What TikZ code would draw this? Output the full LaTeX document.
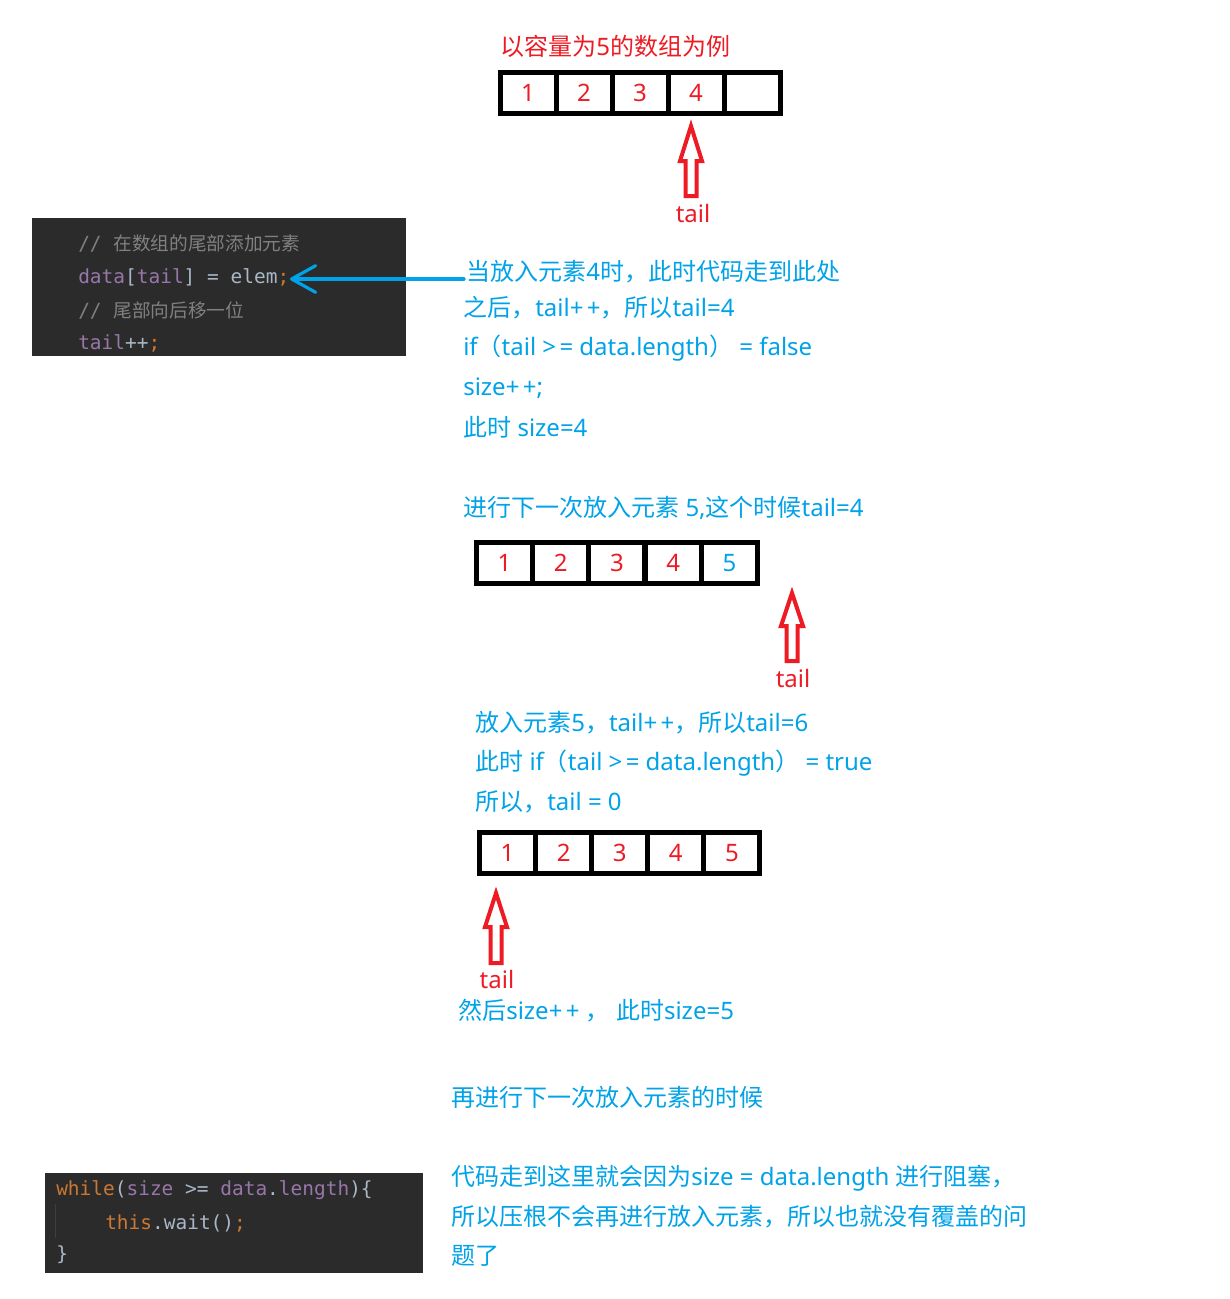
\documentclass[tikz,border=0pt]{standalone}
\usepackage{fontspec}
\setmainfont{Noto Sans CJK SC}
\setmonofont{DejaVu Sans Mono}
\newfontfamily\cjk{Noto Sans CJK SC}
\newfontfamily\latfont{Noto Sans}
\newcommand{\lt}[1]{{\latfont #1}}
\newcommand{\pp}{+\kern2.5pt+}
\newcommand{\geqsp}{>\kern2.5pt=}
\usetikzlibrary{arrows.meta}
\definecolor{rd}{RGB}{237,28,36}
\definecolor{bl}{RGB}{0,162,232}
\definecolor{codebg}{RGB}{43,43,43}
\definecolor{cgrey}{RGB}{128,128,128}
\definecolor{cpurple}{RGB}{152,118,170}
\definecolor{clight}{RGB}{169,183,198}
\definecolor{corange}{RGB}{204,120,50}
\definecolor{guide}{RGB}{62,62,62}
\begin{document}
\begin{tikzpicture}[x=0.75pt,y=-0.75pt,
  txt/.style={anchor=west,inner sep=0,text=bl,font=\fontsize{18pt}{22pt}\selectfont},
  rtxt/.style={inner sep=0,text=rd,font=\fontsize{18pt}{22pt}\selectfont},
  cell/.style={draw=black,line width=3.75pt,minimum width=42pt,minimum height=31.1pt,inner sep=0,outer sep=0,text=rd,font=\fontsize{18pt}{22pt}\selectfont\latfont},
  code/.style={anchor=west,inner sep=0,font=\fontsize{14.6pt}{17pt}\selectfont\ttfamily},
  codebox/.style={fill=codebg,draw=none},
  hollow/.style={draw=rd,line width=3pt,line join=miter},
  pointer/.style={draw=bl,line width=2.4pt,line cap=round,-{Straight Barb[length=18pt,width=20pt,round]}}
]
\useasboundingbox[fill=white] (0,0) rectangle (1230,1299);

% title
\node[rtxt,anchor=west] (title) at (500,46) {以容量为\lt{5}的数组为例};

% array 1
\foreach \v [count=\i] in {1,2,3,4,{}} {
  \node[cell] (a\i) at ({500+28+56*(\i-1)},92.75) {\v};
}
\draw[hollow] (691,126) -- (702,161) -- (696.5,161) -- (696.5,196) -- (685.5,196) -- (685.5,161) -- (680,161) -- cycle;
\node[rtxt] (tail1) at (693,213) {\lt{tail}};

% code box 1
\fill[codebox] (32,218) rectangle (406,356);
\node[code] (c1) at (78,244) {\color{cgrey}// {\cjk\fontsize{14pt}{17pt}\selectfont 在数组的尾部添加元素}};
\node[code] (c2) at (78,277) {\color{cpurple}data\color{clight}[\color{cpurple}tail\color{clight}] = elem\color{corange};};
\node[code] (c3) at (78,310) {\color{cgrey}// {\cjk\fontsize{14pt}{17pt}\selectfont 尾部向后移一位}};
\node[code] (c4) at (78,343) {\color{cpurple}tail\color{clight}++\color{corange};};

% explanation texts
\node[txt] (t1) at (466,272) {当放入元素\lt{4}时，此时代码走到此处};
\coordinate (semi) at (290,279);
\draw[pointer] ([shift={(-2,7)}]t1.west) -- (semi);
\node[txt] (t2) at (463,308) {之后，\lt{tail\pp}，所以\lt{tail=4}};
\node[txt] (t3) at (463,348) {\lt{if}（\lt{tail \geqsp{} data.length}）\lt{ = false}};
\node[txt] (t4) at (463,388) {\lt{size\pp;}};
\node[txt] (t5) at (463,427) {此时\lt{ size=4}};
\node[txt] (t6) at (463,508) {进行下一次放入元素\lt{ 5,}这个时候\lt{tail=4}};

% array 2
\foreach \v [count=\i] in {1,2,3,4} {
  \node[cell] (b\i) at ({476.3+28.1+56.24*(\i-1)},562.85) {\v};
}
\node[cell,text=bl] (b5) at ({476.3+28.1+56.24*4},562.85) {5};
\draw[hollow] (792,593) -- (803,626) -- (797.5,626) -- (797.5,661) -- (786.5,661) -- (786.5,626) -- (781,626) -- cycle;
\node[rtxt] (tail2) at (793,678) {\lt{tail}};

\node[txt] (t7) at (475,723) {放入元素\lt{5}，\lt{tail\pp}，所以\lt{tail=6}};
\node[txt] (t8) at (475,763) {此时\lt{ if}（\lt{tail \geqsp{} data.length}）\lt{ = true}};
\node[txt] (t9) at (475,802) {所以，\lt{tail = 0}};

% array 3
\foreach \v [count=\i] in {1,2,3,4,5} {
  \node[cell] (d\i) at ({479.5+28.05+56.1*(\i-1)},852.85) {\v};
}
\draw[hollow] (496,893) -- (507,927) -- (501.5,927) -- (501.5,963) -- (490.5,963) -- (490.5,927) -- (485,927) -- cycle;
\node[rtxt] (tail3) at (497,979) {\lt{tail}};

\node[txt] (t10) at (458,1011) {然后\lt{size\pp{} }，\lt{ }此时\lt{size=5}};
\node[txt] (t11) at (451,1097) {再进行下一次放入元素的时候};
\node[txt] (t12) at (451,1178) {代码走到这里就会因为\lt{size = data.length }进行阻塞，};
\node[txt] (t13) at (451,1217) {所以压根不会再进行放入元素，所以也就没有覆盖的问};
\node[txt] (t14) at (451,1256) {题了};

% code box 2
\fill[codebox] (45,1173) rectangle (423,1273);
\draw[guide,line width=0.75pt] (55,1204) -- (55,1238);
\node[code] (w1) at (56,1190) {\color{corange}while\color{clight}(\color{cpurple}size \color{clight}>= \color{cpurple}data\color{clight}.\color{cpurple}length\color{clight})\{};
\node[code] (w2) at (105,1223) {\color{corange}this\color{clight}.wait()\color{corange};};
\node[code] (w3) at (56,1255) {\color{clight}\}};
\end{tikzpicture}
\end{document}
